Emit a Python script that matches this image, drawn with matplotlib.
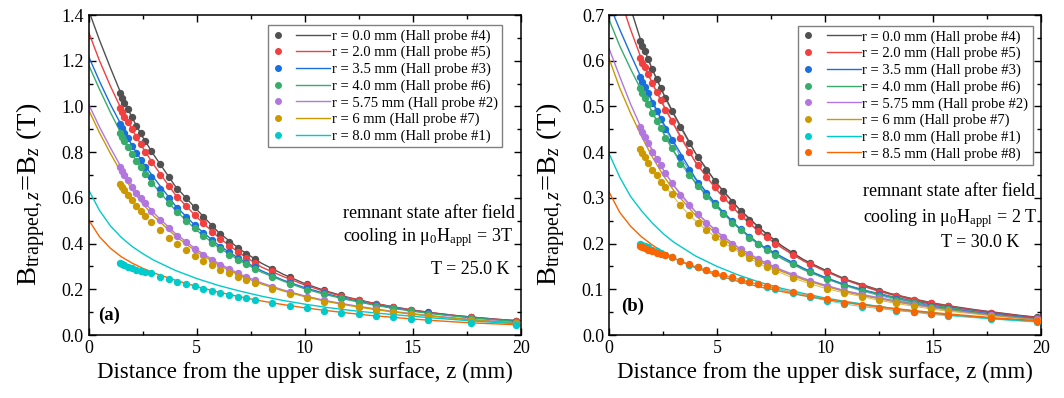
import matplotlib
matplotlib.use("Agg")
import matplotlib.pyplot as plt
from matplotlib.lines import Line2D
from matplotlib.legend_handler import HandlerBase

plt.rcParams['font.family'] = ['Liberation Serif', 'DejaVu Serif']
plt.rcParams['mathtext.fontset'] = 'custom'
plt.rcParams['mathtext.rm'] = 'Liberation Serif'
plt.rcParams['mathtext.it'] = 'Liberation Serif:italic'
plt.rcParams['mathtext.bf'] = 'Liberation Serif:bold'

# ---------------- data ----------------
Z = [1.45, 1.55, 1.65, 1.8, 2.0, 2.2, 2.4, 2.6, 2.9, 3.3, 3.7, 4.1, 4.5, 4.9, 5.3, 5.7, 6.1,
     6.5, 6.9, 7.3, 7.7, 8.5, 9.3, 10.1, 10.9, 11.7, 12.5, 13.3, 14.1, 14.9, 15.7, 17.7, 19.8]
ZF = [0, 0.5, 1, 1.5, 2, 2.5, 3, 4, 5, 6, 7, 8, 9, 10, 11, 12, 13, 14, 15, 16, 17, 18, 19, 20]

LABELS_A = ["r = 0.0 mm (Hall probe #4)", "r = 2.0 mm (Hall probe #5)", "r = 3.5 mm (Hall probe #3)",
            "r = 4.0 mm (Hall probe #6)", "r = 5.75 mm (Hall probe #2)", "r = 6 mm (Hall probe #7)",
            "r = 8.0 mm (Hall probe #1)"]
LABELS_B = LABELS_A + ["r = 8.5 mm (Hall probe #8)"]
COLORS = ["#515151", "#F14040", "#1A6FDF", "#37AD6B", "#B177DE", "#CC9900", "#00CBCC", "#FB6501"]

# panel (a): measured points
a_r00 = [1.057, 1.038, 1.016, 0.989, 0.952, 0.916, 0.884, 0.849, 0.804, 0.747, 0.690, 0.640, 0.601, 0.560, 0.517, 0.477, 0.442,
         0.409, 0.382, 0.356, 0.331, 0.288, 0.254, 0.222, 0.195, 0.173, 0.153, 0.137, 0.123, 0.110, 0.099, 0.078, 0.063]
a_r20 = [0.995, 0.974, 0.955, 0.933, 0.901, 0.865, 0.836, 0.802, 0.758, 0.700, 0.650, 0.605, 0.564, 0.525, 0.489, 0.452, 0.420,
         0.390, 0.362, 0.338, 0.315, 0.278, 0.246, 0.217, 0.191, 0.170, 0.151, 0.135, 0.121, 0.109, 0.098, 0.077, 0.062]
a_r35 = [0.923, 0.904, 0.885, 0.860, 0.827, 0.795, 0.765, 0.735, 0.693, 0.640, 0.598, 0.555, 0.515, 0.480, 0.447, 0.416, 0.387,
         0.361, 0.338, 0.316, 0.296, 0.258, 0.229, 0.204, 0.182, 0.163, 0.146, 0.131, 0.118, 0.106, 0.096, 0.075, 0.059]
a_r40 = [0.883, 0.866, 0.848, 0.823, 0.792, 0.762, 0.733, 0.705, 0.666, 0.617, 0.577, 0.537, 0.500, 0.466, 0.434, 0.404, 0.377,
         0.352, 0.330, 0.309, 0.289, 0.252, 0.224, 0.199, 0.178, 0.160, 0.143, 0.129, 0.116, 0.104, 0.094, 0.073, 0.057]
a_r575 = [0.736, 0.718, 0.700, 0.678, 0.648, 0.622, 0.598, 0.576, 0.544, 0.505, 0.468, 0.435, 0.405, 0.378, 0.352, 0.328, 0.307,
          0.288, 0.270, 0.254, 0.239, 0.210, 0.188, 0.168, 0.151, 0.137, 0.124, 0.112, 0.101, 0.092, 0.084, 0.067, 0.052]
a_r60 = [0.659, 0.649, 0.634, 0.612, 0.591, 0.566, 0.544, 0.522, 0.493, 0.459, 0.426, 0.398, 0.370, 0.347, 0.325, 0.305, 0.286,
         0.270, 0.254, 0.239, 0.227, 0.200, 0.178, 0.160, 0.146, 0.133, 0.121, 0.110, 0.100, 0.091, 0.083, 0.066, 0.052]
a_r80 = [0.313, 0.311, 0.306, 0.299, 0.292, 0.284, 0.280, 0.276, 0.270, 0.255, 0.244, 0.233, 0.223, 0.213, 0.203, 0.194, 0.185,
         0.176, 0.168, 0.160, 0.155, 0.140, 0.127, 0.117, 0.106, 0.098, 0.090, 0.083, 0.077, 0.070, 0.064, 0.052, 0.043]

# panel (a): fitted curves
af_r00 = [1.42, 1.29, 1.17, 1.055, 0.952, 0.866, 0.790, 0.652, 0.549, 0.450, 0.375, 0.314, 0.266, 0.225, 0.192, 0.165, 0.143, 0.125, 0.109, 0.096, 0.085, 0.076, 0.068, 0.062]
af_r20 = [1.324, 1.20, 1.09, 0.99, 0.901, 0.820, 0.746, 0.615, 0.516, 0.428, 0.357, 0.297, 0.256, 0.219, 0.188, 0.163, 0.142, 0.124, 0.108, 0.096, 0.085, 0.076, 0.068, 0.062]
af_r35 = [1.218, 1.11, 1.01, 0.92, 0.83, 0.755, 0.69, 0.567, 0.472, 0.394, 0.332, 0.281, 0.240, 0.207, 0.180, 0.157, 0.137, 0.120, 0.106, 0.094, 0.083, 0.074, 0.066, 0.059]
af_r40 = [1.181, 1.075, 0.975, 0.882, 0.792, 0.72, 0.657, 0.547, 0.458, 0.384, 0.325, 0.275, 0.236, 0.202, 0.176, 0.154, 0.135, 0.118, 0.104, 0.092, 0.082, 0.073, 0.065, 0.057]
af_r575 = [1.009, 0.91, 0.82, 0.735, 0.655, 0.59, 0.535, 0.445, 0.373, 0.314, 0.266, 0.228, 0.197, 0.171, 0.150, 0.133, 0.118, 0.104, 0.093, 0.083, 0.074, 0.066, 0.059, 0.053]
af_r60 = [0.984, 0.885, 0.795, 0.712, 0.637, 0.574, 0.521, 0.434, 0.364, 0.307, 0.260, 0.223, 0.193, 0.168, 0.147, 0.130, 0.115, 0.102, 0.091, 0.081, 0.072, 0.064, 0.057, 0.050]
af_r80 = [0.634, 0.545, 0.478, 0.428, 0.388, 0.356, 0.328, 0.283, 0.247, 0.217, 0.192, 0.170, 0.151, 0.135, 0.121, 0.109, 0.099, 0.090, 0.082, 0.074, 0.067, 0.060, 0.054, 0.049]
af_r85 = [0.503, 0.43, 0.38, 0.343, 0.315, 0.292, 0.272, 0.240, 0.212, 0.188, 0.167, 0.149, 0.133, 0.119, 0.107, 0.096, 0.086, 0.078, 0.070, 0.063, 0.057, 0.052, 0.048, 0.044]

# panel (b): measured points
b_r00 = [0.643, 0.633, 0.622, 0.603, 0.581, 0.559, 0.540, 0.518, 0.490, 0.454, 0.421, 0.390, 0.362, 0.337, 0.314, 0.292, 0.271,
         0.252, 0.237, 0.219, 0.205, 0.179, 0.157, 0.140, 0.122, 0.108, 0.0955, 0.086, 0.0766, 0.069, 0.063, 0.049, 0.0386]
b_r20 = [0.607, 0.596, 0.586, 0.570, 0.551, 0.532, 0.514, 0.492, 0.468, 0.432, 0.401, 0.372, 0.346, 0.323, 0.300, 0.281, 0.261,
         0.244, 0.227, 0.214, 0.200, 0.175, 0.155, 0.138, 0.121, 0.107, 0.095, 0.085, 0.076, 0.069, 0.063, 0.049, 0.038]
b_r35 = [0.565, 0.554, 0.543, 0.529, 0.508, 0.489, 0.472, 0.450, 0.427, 0.390, 0.361, 0.333, 0.310, 0.288, 0.266, 0.249, 0.231,
         0.215, 0.200, 0.190, 0.179, 0.157, 0.139, 0.124, 0.110, 0.098, 0.088, 0.079, 0.071, 0.064, 0.058, 0.046, 0.036]
b_r40 = [0.540, 0.529, 0.518, 0.505, 0.486, 0.469, 0.452, 0.432, 0.408, 0.375, 0.350, 0.327, 0.304, 0.284, 0.265, 0.246, 0.230,
         0.212, 0.198, 0.186, 0.175, 0.155, 0.137, 0.122, 0.108, 0.096, 0.086, 0.077, 0.069, 0.062, 0.056, 0.044, 0.034]
b_r575 = [0.454, 0.445, 0.434, 0.419, 0.401, 0.386, 0.372, 0.355, 0.333, 0.306, 0.284, 0.265, 0.246, 0.230, 0.214, 0.200, 0.188,
          0.177, 0.166, 0.157, 0.148, 0.131, 0.119, 0.107, 0.097, 0.088, 0.080, 0.072, 0.066, 0.060, 0.054, 0.043, 0.034]
b_r60 = [0.406, 0.399, 0.389, 0.377, 0.361, 0.349, 0.335, 0.324, 0.308, 0.284, 0.263, 0.246, 0.230, 0.215, 0.202, 0.190, 0.179,
         0.168, 0.157, 0.148, 0.141, 0.125, 0.112, 0.101, 0.092, 0.084, 0.076, 0.069, 0.063, 0.057, 0.052, 0.042, 0.033]
b_r80 = [0.199, 0.197, 0.195, 0.192, 0.187, 0.184, 0.180, 0.176, 0.171, 0.161, 0.154, 0.148, 0.142, 0.136, 0.130, 0.125, 0.120,
         0.115, 0.111, 0.106, 0.101, 0.092, 0.083, 0.075, 0.068, 0.062, 0.058, 0.053, 0.050, 0.045, 0.042, 0.035, 0.028]
b_r85 = [0.195, 0.192, 0.190, 0.187, 0.184, 0.180, 0.177, 0.175, 0.170, 0.162, 0.155, 0.148, 0.142, 0.136, 0.131, 0.126, 0.121,
         0.116, 0.112, 0.107, 0.103, 0.093, 0.086, 0.078, 0.071, 0.065, 0.060, 0.055, 0.051, 0.047, 0.044, 0.037, 0.031]

# panel (b): fitted curves
bf_r00 = [0.89, 0.80, 0.715, 0.640, 0.582, 0.530, 0.484, 0.398, 0.331, 0.277, 0.233, 0.195, 0.165, 0.142, 0.121, 0.106, 0.091, 0.080, 0.070, 0.062, 0.055, 0.049, 0.043, 0.038]
bf_r20 = [0.82, 0.738, 0.668, 0.604, 0.551, 0.505, 0.461, 0.378, 0.317, 0.266, 0.224, 0.191, 0.162, 0.140, 0.120, 0.104, 0.090, 0.079, 0.069, 0.061, 0.054, 0.048, 0.042, 0.037]
bf_r35 = [0.725, 0.668, 0.614, 0.562, 0.512, 0.465, 0.422, 0.343, 0.283, 0.235, 0.197, 0.171, 0.146, 0.126, 0.109, 0.096, 0.085, 0.075, 0.067, 0.060, 0.053, 0.047, 0.041, 0.036]
bf_r40 = [0.69, 0.632, 0.582, 0.535, 0.488, 0.444, 0.402, 0.333, 0.280, 0.234, 0.197, 0.167, 0.143, 0.124, 0.108, 0.095, 0.084, 0.074, 0.065, 0.058, 0.051, 0.045, 0.039, 0.034]
bf_r575 = [0.627, 0.565, 0.505, 0.452, 0.405, 0.362, 0.327, 0.270, 0.226, 0.191, 0.164, 0.142, 0.124, 0.109, 0.096, 0.086, 0.077, 0.069, 0.062, 0.056, 0.050, 0.044, 0.039, 0.034]
bf_r60 = [0.605, 0.54, 0.485, 0.435, 0.39, 0.35, 0.316, 0.262, 0.220, 0.186, 0.160, 0.139, 0.121, 0.107, 0.094, 0.084, 0.075, 0.067, 0.060, 0.054, 0.048, 0.043, 0.038, 0.033]
bf_r80 = [0.397, 0.345, 0.303, 0.272, 0.245, 0.222, 0.203, 0.173, 0.150, 0.131, 0.115, 0.102, 0.091, 0.081, 0.073, 0.066, 0.059, 0.053, 0.048, 0.043, 0.039, 0.035, 0.032, 0.029]
bf_r85 = [0.313, 0.268, 0.238, 0.215, 0.197, 0.182, 0.168, 0.147, 0.131, 0.117, 0.105, 0.095, 0.086, 0.078, 0.071, 0.065, 0.059, 0.054, 0.049, 0.045, 0.041, 0.037, 0.034, 0.031]

A_POINTS = [a_r00, a_r20, a_r35, a_r40, a_r575, a_r60, a_r80]
A_FITS = [af_r00, af_r20, af_r35, af_r40, af_r575, af_r60, af_r80, af_r85]
B_POINTS = [b_r00, b_r20, b_r35, b_r40, b_r575, b_r60, b_r80, b_r85]
B_FITS = [bf_r00, bf_r20, bf_r35, bf_r40, bf_r575, bf_r60, bf_r80, bf_r85]


class DotLineHandler(HandlerBase):
    def create_artists(self, legend, orig, xd, yd, w, h, fs, trans):
        y = h / 2 - yd
        c = orig.get_color()
        m = Line2D([-xd + 0.10 * w], [y], ls='none', marker='o', ms=4, color=c, transform=trans)
        l = Line2D([-xd + 0.42 * w, -xd + w], [y, y], color=c, lw=1.0, transform=trans)
        return [m, l]


fig = plt.figure(figsize=(10.64, 3.98), dpi=100)
axA = fig.add_axes([88.7 / 1064, 63 / 398, 432 / 1064, 320 / 398])
axB = fig.add_axes([609 / 1064, 63 / 398, 432 / 1064, 320 / 398])


def style(ax, ymax, ymajor):
    ax.set_xlim(0, 20)
    ax.set_ylim(0, ymax)
    ax.set_xticks([0, 5, 10, 15, 20])
    ax.set_xticks([2.5, 7.5, 12.5, 17.5], minor=True)
    n = int(round(ymax / ymajor))
    ax.set_yticks([i * ymajor for i in range(n + 1)])
    ax.set_yticks([(i + 0.5) * ymajor for i in range(n)], minor=True)
    ax.yaxis.set_major_formatter(matplotlib.ticker.FormatStrFormatter('%.1f'))
    ax.tick_params(which='both', direction='in', top=True, right=True, labelsize=13)
    ax.tick_params(which='major', length=5, width=1.0)
    ax.tick_params(which='minor', length=3, width=1.0)
    for s in ax.spines.values():
        s.set_linewidth(1.1)
    ax.set_xlabel("Distance from the upper disk surface, z (mm)", fontsize=16.5)
    ax.set_ylabel(r"B$_{\mathrm{trapped,}z}$=B$_z$ (T)", fontsize=20.5)
    ax.yaxis.set_label_coords(-0.095, 0.44)
    ax.xaxis.set_label_coords(0.5, -0.085)


# panel (a)
for fit, c in zip(A_FITS, COLORS):
    axA.plot(ZF, fit, color=c, lw=1.0, zorder=2)
for pts, c in zip(A_POINTS, COLORS):
    axA.plot(Z, pts, ls='none', marker='o', ms=4.3, color=c, zorder=3)
style(axA, 1.4, 0.2)

# panel (b)
for fit, c in zip(B_FITS, COLORS):
    axB.plot(ZF, fit, color=c, lw=1.0, zorder=2)
for pts, c in zip(B_POINTS, COLORS):
    axB.plot(Z, pts, '-', lw=0.7, alpha=0.7, color=c, zorder=3)
    axB.plot(Z, pts, ls='none', marker='o', ms=4.3, color=c, zorder=4)
style(axB, 0.7, 0.1)

for ax, labels, anchor in ((axA, LABELS_A, (0.957, 0.969)), (axB, LABELS_B, (0.981, 0.966))):
    handles = [Line2D([], [], color=c) for c in COLORS[:len(labels)]]
    leg = ax.legend(handles, labels, loc='upper right', bbox_to_anchor=anchor, borderaxespad=0,
                    fontsize=10.5, handlelength=4.0, handletextpad=0.1, labelspacing=0.22,
                    borderpad=0.3, fancybox=False, framealpha=1,
                    handler_map={Line2D: DotLineHandler()})
    leg.get_frame().set_edgecolor('#808080')
    leg.get_frame().set_linewidth(1.0)

# annotations
axA.text(0.589, 0.381, "remnant state after field", transform=axA.transAxes, fontsize=13, ha='left', va='center')
axA.text(0.589, 0.305, r"cooling in $\mathrm{\mu}_0$H$_{\mathrm{appl}}$ = 3T", transform=axA.transAxes,
         fontsize=13, ha='left', va='center')
axA.text(0.975, 0.205, "T = 25.0 K", transform=axA.transAxes, fontsize=13, ha='right', va='center')
axA.text(0.022, 0.0625, "(a)", transform=axA.transAxes, fontsize=13.5, fontweight='bold', ha='left', va='center')

axB.text(0.588, 0.447, "remnant state after field", transform=axB.transAxes, fontsize=13, ha='left', va='center')
axB.text(0.588, 0.365, r"cooling in $\mathrm{\mu}_0$H$_{\mathrm{appl}}$ = 2 T", transform=axB.transAxes,
         fontsize=13, ha='left', va='center')
axB.text(0.951, 0.29, "T = 30.0 K", transform=axB.transAxes, fontsize=13, ha='right', va='center')
axB.text(0.028, 0.09, "(b)", transform=axB.transAxes, fontsize=13.5, fontweight='bold', ha='left', va='center')

fig.savefig("out.png", dpi=100)
